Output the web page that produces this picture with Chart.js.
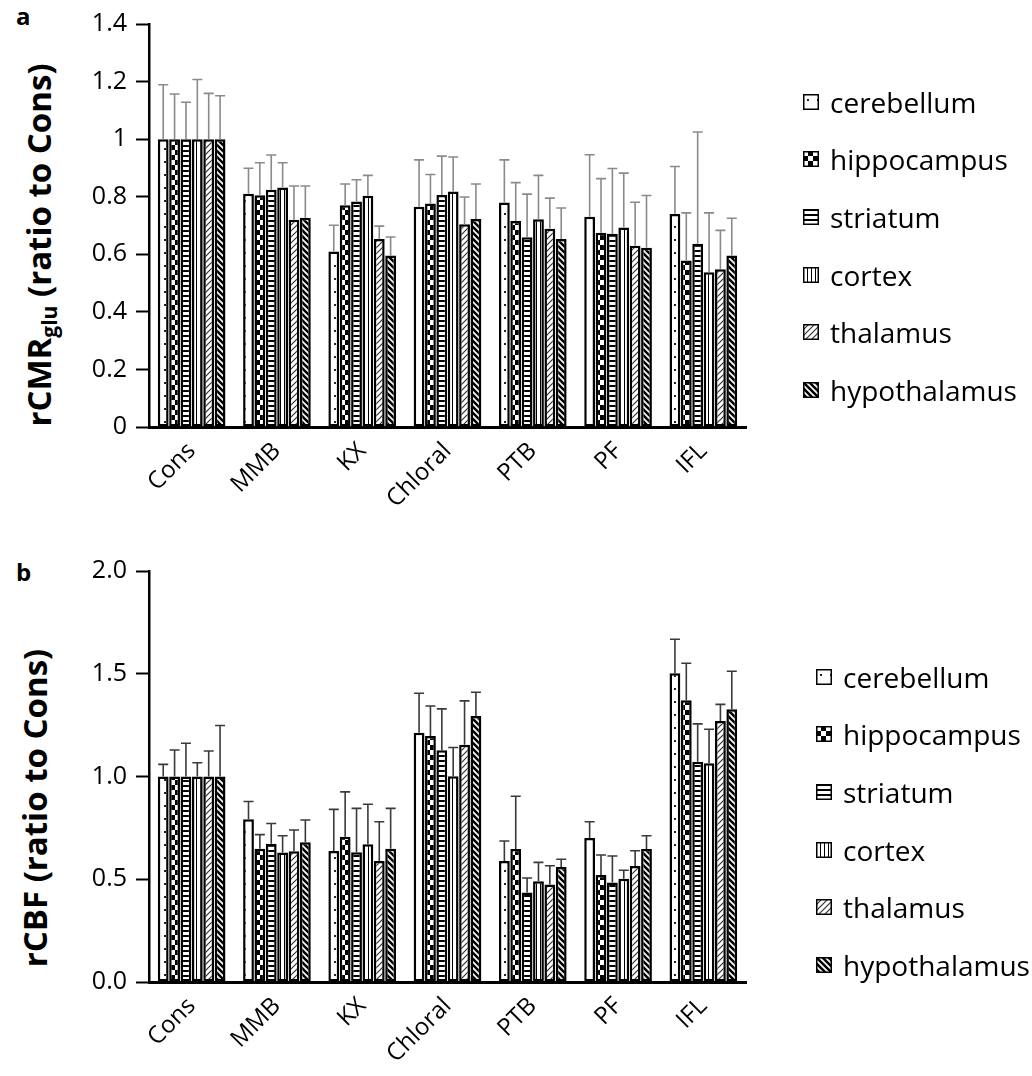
<!DOCTYPE html>
<html>
<head>
<meta charset="utf-8">
<script src="https://cdn.jsdelivr.net/npm/chart.js@4"></script>
<style>
    body { margin: 0; background: #fff; width: 1032px; height: 1076px; position: relative; overflow: hidden; font-family: "Open Sans", sans-serif; color: #000; }
    .panel { position: absolute; left: 0; width: 1032px; }
    #panelA { top: 0; height: 540px; }
    #panelB { top: 540px; height: 536px; }
    .tag { position: absolute; font-weight: bold; font-size: 24px; line-height: 1; }
    .ytitle { position: absolute; font-weight: bold; font-size: 33px; white-space: nowrap; line-height: 1; transform: translate(-50%, -50%) rotate(-90deg); }
    .ytitle sub { font-size: 21px; vertical-align: -6px; }
    .legend { position: absolute; font-size: 28px; }
    .legend .item { height: 57.6px; display: flex; align-items: center; }
    .legend canvas { width: 16px; height: 16px; margin-right: 11px; }
</style>
</head>
<body>
<div class="tag" style="left:16px; top:4px;">a</div>
<div class="tag" style="left:16px; top:560px;">b</div>
<div class="ytitle" style="left:41px; top:245px;">rCMR<sub>glu</sub> (ratio to Cons)</div>
<div class="ytitle" style="left:34px; top:808px;">rCBF (ratio to Cons)</div>

<div class="panel" id="panelA"><canvas id="chartA" width="1032" height="540"></canvas></div>
<div class="panel" id="panelB"><canvas id="chartB" width="1032" height="536"></canvas></div>

<div class="legend" id="legendA" style="left:803px; top:73px;"></div>
<div class="legend" id="legendB" style="left:816px; top:648px;"></div>

<script>
// 分组 & 脑区
const groups = ['Cons', 'MMB', 'KX', 'Chloral', 'PTB', 'PF', 'IFL'];
const regions = ['cerebellum', 'hippocampus', 'striatum', 'cortex', 'thalamus', 'hypothalamus'];

// a: rCMRglu 均值（每行一个脑区）
const gluMeans = [
    [1.0, 0.81, 0.61, 0.765, 0.78, 0.73, 0.74],
    [1.0, 0.805, 0.77, 0.776, 0.716, 0.675, 0.578],
    [1.0, 0.824, 0.783, 0.806, 0.659, 0.671, 0.637],
    [1.0, 0.832, 0.803, 0.818, 0.722, 0.693, 0.538],
    [1.0, 0.72, 0.653, 0.704, 0.689, 0.63, 0.548],
    [1.0, 0.727, 0.596, 0.723, 0.653, 0.623, 0.596]
];
// a: 标准差（只画上半）
const gluSd = [
    [0.189, 0.089, 0.091, 0.163, 0.148, 0.216, 0.165],
    [0.157, 0.113, 0.074, 0.101, 0.133, 0.188, 0.166],
    [0.128, 0.121, 0.076, 0.135, 0.150, 0.227, 0.388],
    [0.207, 0.086, 0.071, 0.120, 0.152, 0.189, 0.206],
    [0.159, 0.117, 0.045, 0.095, 0.106, 0.151, 0.135],
    [0.151, 0.110, 0.064, 0.121, 0.108, 0.181, 0.129]
];

// b: rCBF 均值
const cbfMeans = [
    [1.0, 0.792, 0.638, 1.213, 0.589, 0.701, 1.502],
    [1.0, 0.649, 0.707, 1.197, 0.647, 0.521, 1.371],
    [1.0, 0.673, 0.631, 1.128, 0.436, 0.484, 1.072],
    [1.0, 0.630, 0.670, 1.001, 0.490, 0.503, 1.064],
    [1.0, 0.636, 0.589, 1.155, 0.475, 0.565, 1.270],
    [1.0, 0.680, 0.649, 1.295, 0.560, 0.647, 1.327]
];
// b: 标准差
const cbfSd = [
    [0.059, 0.086, 0.202, 0.192, 0.097, 0.079, 0.166],
    [0.129, 0.068, 0.218, 0.146, 0.257, 0.097, 0.180],
    [0.162, 0.098, 0.214, 0.201, 0.070, 0.129, 0.184],
    [0.067, 0.082, 0.195, 0.140, 0.092, 0.041, 0.166],
    [0.124, 0.104, 0.191, 0.213, 0.091, 0.074, 0.081],
    [0.248, 0.108, 0.196, 0.115, 0.037, 0.065, 0.185]
];

// 刻度文字
const gluTicks = ['0', '0.2', '0.4', '0.6', '0.8', '1', '1.2', '1.4'];
const cbfTicks = ['0.0', '0.5', '1.0', '1.5', '2.0'];

const patternKinds = ['dots', 'checker', 'hlines', 'vlines', 'diagUp', 'diagDown'];

/**
 * 黑白填充图案
 */
function makePattern(kind) {
    const c = document.createElement('canvas');
    const g = c.getContext('2d');
    let w = 8, h = 8;
    if (kind === 'dots') { w = 10; h = 13; }
    if (kind === 'checker') { w = 10; h = 10; }
    if (kind === 'hlines') { w = 4; h = 5; }
    if (kind === 'vlines') { w = 4; h = 4; }
    if (kind === 'diagUp' || kind === 'diagDown') { w = 6; h = 6; }
    c.width = w; c.height = h;
    g.fillStyle = '#fff';
    g.fillRect(0, 0, w, h);
    g.fillStyle = '#000';
    g.strokeStyle = '#000';

    if (kind === 'dots') {
        g.fillStyle = '#222';
        g.fillRect(4, 5, 2, 2);
    } else if (kind === 'checker') {
        g.fillRect(0, 0, 10, 10);
        g.fillStyle = '#fff';
        g.fillRect(0, 0, 5, 5);
        g.fillRect(5, 5, 5, 5);
    } else if (kind === 'hlines') {
        g.fillRect(0, 0, 4, 2);
    } else if (kind === 'vlines') {
        g.fillRect(0, 0, 1, 4);
    } else if (kind === 'diagUp') {
        g.strokeStyle = '#333';
        g.lineWidth = 1.2;
        g.beginPath();
        g.moveTo(0, 6); g.lineTo(6, 0);
        g.moveTo(-1, 1); g.lineTo(1, -1);
        g.moveTo(5, 7); g.lineTo(7, 5);
        g.stroke();
    } else if (kind === 'diagDown') {
        g.lineWidth = 2.6;
        g.beginPath();
        g.moveTo(0, 0); g.lineTo(6, 6);
        g.moveTo(-1, 5); g.lineTo(1, 7);
        g.moveTo(5, -1); g.lineTo(7, 1);
        g.stroke();
    }
    return c;
}

const patternTiles = patternKinds.map(makePattern);

/**
 * 误差线插件（只画上半）
 */
const errorBars = {
    id: 'errorBars',
    afterDatasetsDraw(chart, args, opts) {
        const ctx = chart.ctx;
        const yScale = chart.scales.y;
        ctx.save();
        ctx.strokeStyle = opts.color;
        ctx.lineWidth = opts.width;
        chart.data.datasets.forEach((ds, i) => {
            chart.getDatasetMeta(i).data.forEach((bar, j) => {
                const top = yScale.getPixelForValue(ds.data[j] + opts.sd[i][j]);
                ctx.beginPath();
                ctx.moveTo(bar.x, bar.y);
                ctx.lineTo(bar.x, top);
                ctx.moveTo(bar.x - 5, top);
                ctx.lineTo(bar.x + 5, top);
                ctx.stroke();
            });
        });
        ctx.restore();
    }
};

/**
 * 建一个面板
 */
function buildChart(canvasId, means, sd, cfg) {
    const ctx = document.getElementById(canvasId).getContext('2d');
    const patterns = patternTiles.map(t => ctx.createPattern(t, 'repeat'));

    return new Chart(ctx, {
        type: 'bar',
        data: {
            labels: groups,
            datasets: regions.map((name, i) => ({
                label: name,
                data: means[i],
                backgroundColor: patterns[i],
                borderColor: '#000',
                borderWidth: 2.5,
                borderSkipped: false,
                barPercentage: 0.95,
                categoryPercentage: 0.8
            }))
        },
        options: {
            responsive: false,
            animation: false,
            devicePixelRatio: 1,
            layout: { padding: { top: cfg.padTop, right: 286, left: 0, bottom: 0 } },
            plugins: {
                legend: { display: false },
                tooltip: { enabled: false },
                errorBars: { color: cfg.errColor, width: 1.6, sd: sd }
            },
            scales: {
                x: {
                    ticks: {
                        color: '#000',
                        font: { family: 'Open Sans', size: 24 },
                        maxRotation: 45,
                        minRotation: 45,
                        padding: 10
                    },
                    grid: { display: false, drawTicks: false },
                    border: { display: true, color: '#000', width: 3 },
                    afterFit: s => { s.height = cfg.xHeight; }
                },
                y: {
                    min: 0,
                    max: cfg.max,
                    ticks: {
                        stepSize: cfg.step,
                        color: '#000',
                        font: { family: 'Open Sans', size: 25 },
                        padding: 9,
                        callback: v => cfg.tickLabels[Math.round(v / cfg.step)]
                    },
                    grid: { drawOnChartArea: false, drawTicks: true, tickLength: 13, tickWidth: 2, tickColor: '#000', color: '#000' },
                    border: { display: true, color: '#000', width: 2.5 },
                    afterFit: s => { s.width = 149; }
                }
            }
        },
        plugins: [errorBars]
    });
}

/**
 * 图例（HTML）
 */
function buildLegend(id) {
    const box = document.getElementById(id);
    regions.forEach((name, i) => {
        const item = document.createElement('div');
        item.className = 'item';
        const sw = document.createElement('canvas');
        sw.width = 16; sw.height = 16;
        const g = sw.getContext('2d');
        g.fillStyle = g.createPattern(patternTiles[i], 'repeat');
        g.fillRect(0, 0, 16, 16);
        g.strokeStyle = '#000';
        g.lineWidth = 1.5;
        g.strokeRect(0.75, 0.75, 14.5, 14.5);
        const label = document.createElement('span');
        label.textContent = name;
        item.appendChild(sw);
        item.appendChild(label);
        box.appendChild(item);
    });
}

buildChart('chartA', gluMeans, gluSd, {
    max: 1.4, step: 0.2, tickLabels: gluTicks, errColor: '#8a8a8a', padTop: 20, xHeight: 113
});
buildChart('chartB', cbfMeans, cbfSd, {
    max: 2.0, step: 0.5, tickLabels: cbfTicks, errColor: '#3a3a3a', padTop: 31, xHeight: 94
});
buildLegend('legendA');
buildLegend('legendB');
</script>
</body>
</html>
